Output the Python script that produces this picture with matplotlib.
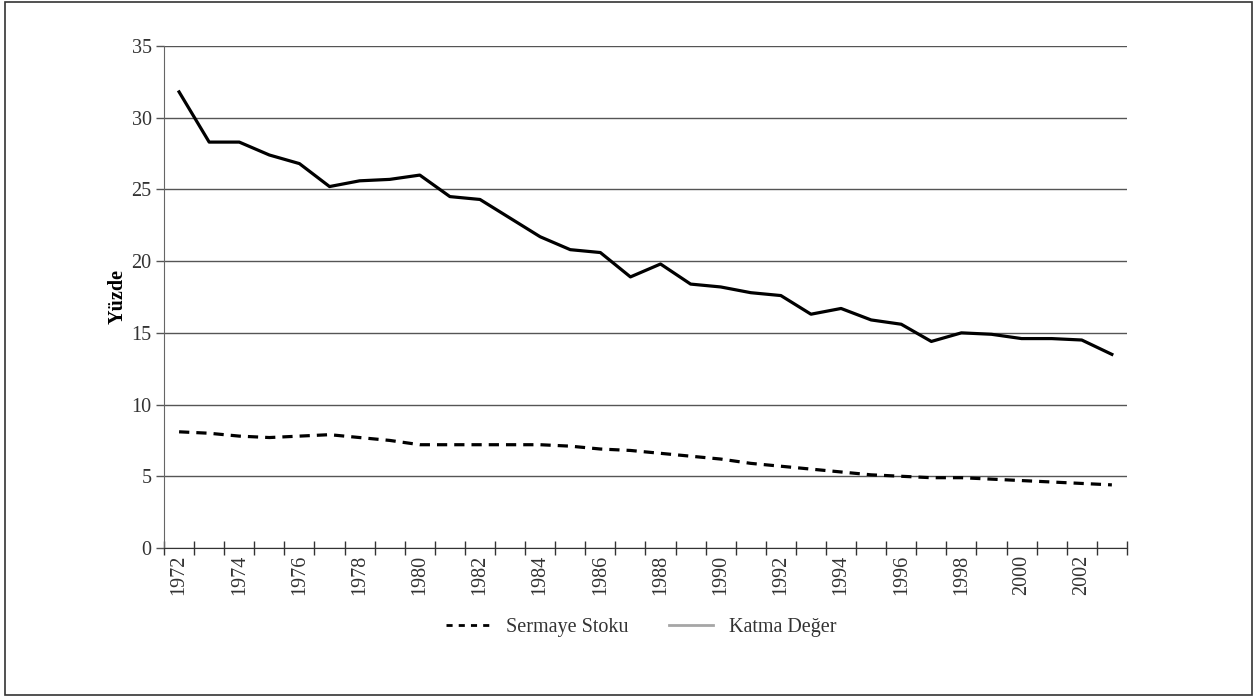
import matplotlib.pyplot as plt
from matplotlib.lines import Line2D
from matplotlib.patches import Rectangle

# veriler
years = list(range(1972, 2004))
katma_deger = [31.8, 28.3, 28.3, 27.4, 26.8, 25.2, 25.6, 25.7, 26.0, 24.5,
               24.3, 23.0, 21.7, 20.8, 20.6, 18.9, 19.8, 18.4, 18.2, 17.8,
               17.6, 16.3, 16.7, 15.9, 15.6, 14.4, 15.0, 14.9, 14.6, 14.6,
               14.5, 13.5]
sermaye_stoku = [8.1, 8.0, 7.8, 7.7, 7.8, 7.9, 7.7, 7.5, 7.2, 7.2,
                 7.2, 7.2, 7.2, 7.1, 6.9, 6.8, 6.6, 6.4, 6.2, 5.9,
                 5.7, 5.5, 5.3, 5.1, 5.0, 4.9, 4.9, 4.8, 4.7, 4.6,
                 4.5, 4.4]
yticks = [0, 5, 10, 15, 20, 25, 30, 35]

plt.rcParams['font.family'] = ['Liberation Serif', 'DejaVu Serif']

fig = plt.figure(figsize=(12.57, 6.97), dpi=100)
ax = fig.add_axes([0.1305, 0.2138, 0.766, 0.7202])

x = list(range(len(years)))
ax.plot(x, katma_deger, color='black', lw=2.3)
ax.plot(x, sermaye_stoku, color='black', lw=2.3, linestyle=(0, (3.2, 2.2)))

ax.set_xlim(-0.5, len(years) - 0.5)
ax.set_ylim(0, 35)
ax.set_yticks(yticks)
ax.set_yticklabels([str(v) for v in yticks], fontsize=14.5, color='#333333')
ax.yaxis.grid(True, color='#555555', lw=1)
ax.set_axisbelow(True)
ax.tick_params(axis='y', length=6, width=1, color='#555555', pad=3)

# kategori sınırlarında işaretler, etiketler ortada
ax.set_xticks([i - 0.5 for i in range(len(years) + 1)])
ax.set_xticklabels([])
ax.tick_params(axis='x', which='major', direction='inout', length=10,
               width=1, color='#333333')
ax.set_xticks([i for i in x if years[i] % 2 == 0], minor=True)
ax.set_xticklabels([str(years[i]) for i in x if years[i] % 2 == 0],
                   minor=True, rotation=90, fontsize=14.5, color='#333333')
ax.tick_params(axis='x', which='minor', length=0, pad=5)

for s in ['top', 'right']:
    ax.spines[s].set_visible(False)
ax.spines['left'].set_color('#666666')
ax.spines['bottom'].set_color('#333333')

ax.set_ylabel('Yüzde', fontsize=14.5, fontweight='bold', labelpad=3)

handles = [Line2D([], [], color='black', lw=2.0, linestyle=(0, (2.2, 2.2))),
           Line2D([], [], color='#a6a6a6', lw=2.0)]
fig.legend(handles, ['Sermaye Stoku', 'Katma Değer'], loc='center',
           bbox_to_anchor=(0.51, 0.1), ncol=2, frameon=False,
           fontsize=14.5, handlelength=2.2, columnspacing=2.0,
           labelcolor='#333333')

fig.add_artist(Rectangle((0.004, 0.003), 0.992, 0.994, transform=fig.transFigure,
                         fill=False, edgecolor='#333333', lw=1.2))

fig.savefig('out.png', dpi=100)
